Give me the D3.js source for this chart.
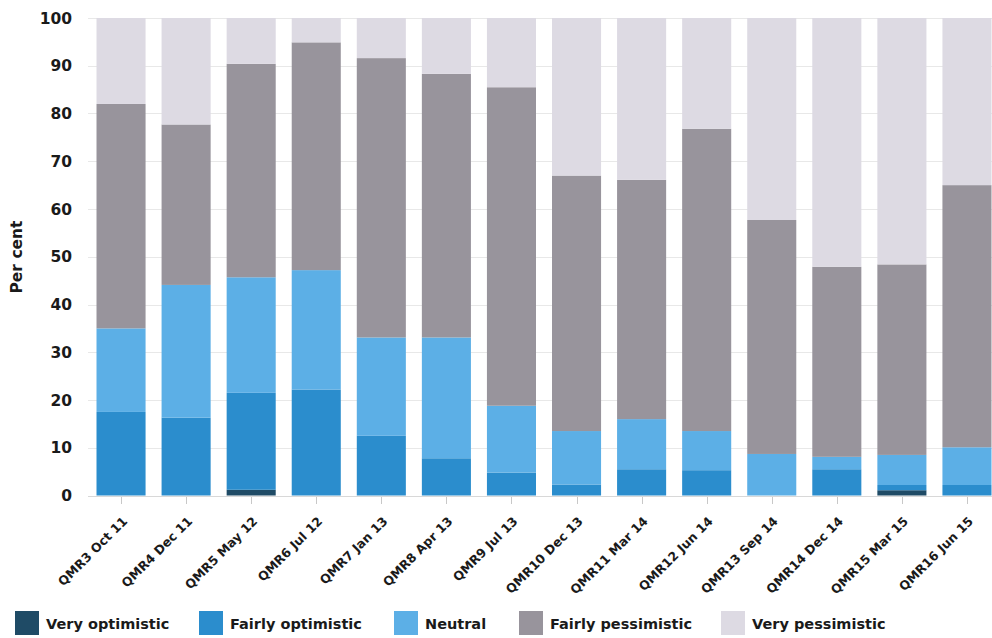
<!DOCTYPE html>
<html>
<head>
<meta charset="utf-8">
<script src="https://cdn.jsdelivr.net/npm/d3@7"></script>
<style>
  html, body { margin: 0; padding: 0; background: #fff; }
  svg { display: block; font-family: "DejaVu Sans", sans-serif; font-weight: bold; }
</style>
</head>
<body>
<svg id="chart" width="992" height="638"></svg>
<script>
// Survey rounds
const categories = [
  "QMR3 Oct 11", "QMR4 Dec 11", "QMR5 May 12", "QMR6 Jul 12", "QMR7 Jan 13",
  "QMR8 Apr 13", "QMR9 Jul 13", "QMR10 Dec 13", "QMR11 Mar 14", "QMR12 Jun 14",
  "QMR13 Sep 14", "QMR14 Dec 14", "QMR15 Mar 15", "QMR16 Jun 15"
];

// Share of respondents per answer (per cent)
const veryOptimistic    = [0,    0,    1.2,  0,    0,    0,    0,    0,    0,    0,    0,    0,    1.1,  0];
const fairlyOptimistic  = [17.5, 16.3, 20.3, 22.2, 12.5, 7.8,  4.8,  2.3,  5.5,  5.3,  0,    5.5,  1.1,  2.2];
const neutral           = [17.5, 27.8, 24.2, 25.0, 20.6, 25.3, 14.0, 11.2, 10.5, 8.2,  8.7,  2.6,  6.3,  7.9];
const fairlyPessimistic = [47.0, 33.6, 44.7, 47.7, 58.5, 55.2, 66.7, 53.5, 50.1, 63.3, 49.0, 39.8, 39.9, 54.9];
const veryPessimistic   = [18.0, 22.3, 9.6,  5.1,  8.4,  11.7, 14.5, 33.0, 33.9, 23.2, 42.3, 52.1, 51.6, 35.0];

const seriesNames = ["Very optimistic", "Fairly optimistic", "Neutral", "Fairly pessimistic", "Very pessimistic"];
const seriesValues = [veryOptimistic, fairlyOptimistic, neutral, fairlyPessimistic, veryPessimistic];
const seriesColors = ["#1f4b66", "#2b8dcd", "#5cafe6", "#98949c", "#dddae3"];

const yTicks = [0, 10, 20, 30, 40, 50, 60, 70, 80, 90, 100];

const svg = d3.select("#chart");

const rows = categories.map((c, i) => {
  const row = { cat: c };
  seriesNames.forEach((s, j) => { row[s] = seriesValues[j][i]; });
  return row;
});
const stacked = d3.stack().keys(seriesNames)(rows);

const x = d3.scaleBand()
  .domain(categories)
  .range([88.5, 999.5])
  .paddingInner(0.246)
  .paddingOuter(0.123);

const y = d3.scaleLinear().domain([0, 100]).range([495.5, 18]);

// horizontal grid
svg.append("g")
  .selectAll("line")
  .data(yTicks.filter(d => d > 0))
  .join("line")
  .attr("x1", 88).attr("x2", 992)
  .attr("y1", d => Math.round(y(d)) + 0.5)
  .attr("y2", d => Math.round(y(d)) + 0.5)
  .attr("stroke", "#e8e8e8")
  .attr("stroke-width", 1);

// y tick labels
svg.append("g")
  .selectAll("text")
  .data(yTicks)
  .join("text")
  .attr("x", 72)
  .attr("y", d => y(d))
  .attr("dy", "0.36em")
  .attr("text-anchor", "end")
  .attr("font-size", 15.5)
  .attr("fill", "#1a1a1a")
  .text(d => d);

// y axis title
svg.append("text")
  .attr("transform", "translate(22,257) rotate(-90)")
  .attr("text-anchor", "middle")
  .attr("font-size", 15.5)
  .attr("fill", "#1a1a1a")
  .text("Per cent");

// stacked bars
svg.append("g")
  .selectAll("g")
  .data(stacked)
  .join("g")
  .attr("fill", (d, i) => seriesColors[i])
  .selectAll("rect")
  .data(d => d)
  .join("rect")
  .attr("x", d => x(d.data.cat))
  .attr("width", x.bandwidth())
  .attr("y", d => y(d[1]))
  .attr("height", d => Math.max(0, y(d[0]) - y(d[1])));

// x axis line and ticks
svg.append("line")
  .attr("x1", 88).attr("x2", 992)
  .attr("y1", 496.5).attr("y2", 496.5)
  .attr("stroke", "#d8d8d8");

svg.append("g")
  .selectAll("line")
  .data(categories)
  .join("line")
  .attr("x1", d => Math.round(x(d) + x.bandwidth() / 2) + 0.5)
  .attr("x2", d => Math.round(x(d) + x.bandwidth() / 2) + 0.5)
  .attr("y1", 497).attr("y2", 504)
  .attr("stroke", "#c8c8c8");

// rotated category labels
svg.append("g")
  .selectAll("text")
  .data(categories)
  .join("text")
  .attr("transform", d => `translate(${x(d) + x.bandwidth() / 2 + 7},522) rotate(-45)`)
  .attr("text-anchor", "end")
  .attr("font-size", 12.5)
  .attr("fill", "#1a1a1a")
  .text(d => d);

// legend
const legendX = [15, 199, 394, 519, 721];
const legend = svg.append("g")
  .selectAll("g")
  .data(seriesNames)
  .join("g")
  .attr("transform", (d, i) => `translate(${legendX[i]},611)`);
legend.append("rect")
  .attr("width", 24).attr("height", 24)
  .attr("fill", (d, i) => seriesColors[i]);
legend.append("text")
  .attr("x", 31).attr("y", 18)
  .attr("font-size", 14.5)
  .attr("fill", "#1a1a1a")
  .text(d => d);
</script>
</body>
</html>
